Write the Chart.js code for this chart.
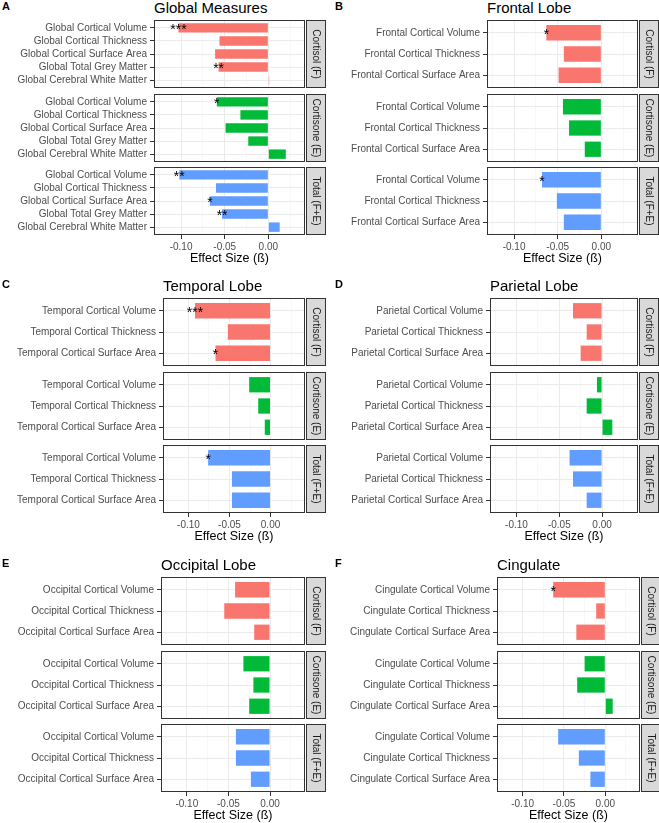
<!DOCTYPE html>
<html>
<head>
<meta charset="utf-8">
<script src="https://cdn.jsdelivr.net/npm/chart.js@4.4.1/dist/chart.umd.min.js"></script>
<style>
body { margin: 0; background: #fff; width: 659px; height: 823px; position: relative; overflow: hidden;
       font-family: "Liberation Sans", Arial, sans-serif; }
canvas { position: absolute; }
.letter { position: absolute; font-weight: bold; font-size: 11px; line-height: 11px; color: #000; }
.title { position: absolute; font-size: 15px; line-height: 15px; color: #000; white-space: nowrap; }
</style>
</head>
<body>
<script>
// facet groups
const groups = ['Cortisol (F)', 'Cortisone (E)', 'Total (F+E)'];

// x axis
const xTicks = [-0.10, -0.05, 0.00];
const xTickLabels = ['-0.10', '-0.05', '0.00'];
const xMinor = [-0.125, -0.075, -0.025, 0.025];

// A - global
const globalLabels = ['Global Cortical Volume', 'Global Cortical Thickness', 'Global Cortical Surface Area',
    'Global Total Grey Matter', 'Global Cerebral White Matter'];
const globalCortisol = [-0.103, -0.056, -0.061, -0.057, 0.001];
const globalCortisone = [-0.059, -0.032, -0.049, -0.023, 0.020];
const globalTotal = [-0.102, -0.060, -0.067, -0.053, 0.013];
const globalStars = [['***', '', '', '**', ''], ['*', '', '', '', ''], ['**', '', '*', '**', '']];

// B - frontal
const frontalLabels = ['Frontal Cortical Volume', 'Frontal Cortical Thickness', 'Frontal Cortical Surface Area'];
const frontalCortisol = [-0.063, -0.043, -0.049];
const frontalCortisone = [-0.044, -0.037, -0.019];
const frontalTotal = [-0.068, -0.051, -0.043];
const frontalStars = [['*', '', ''], ['', '', ''], ['*', '', '']];

// C - temporal
const temporalLabels = ['Temporal Cortical Volume', 'Temporal Cortical Thickness', 'Temporal Cortical Surface Area'];
const temporalCortisol = [-0.092, -0.052, -0.067];
const temporalCortisone = [-0.026, -0.015, -0.007];
const temporalTotal = [-0.076, -0.047, -0.047];
const temporalStars = [['***', '', '*'], ['', '', ''], ['*', '', '']];

// D - parietal
const parietalLabels = ['Parietal Cortical Volume', 'Parietal Cortical Thickness', 'Parietal Cortical Surface Area'];
const parietalCortisol = [-0.034, -0.018, -0.025];
const parietalCortisone = [-0.006, -0.018, 0.012];
const parietalTotal = [-0.038, -0.034, -0.018];
const parietalStars = [['', '', ''], ['', '', ''], ['', '', '']];

// E - occipital
const occipitalLabels = ['Occipital Cortical Volume', 'Occipital Cortical Thickness', 'Occipital Cortical Surface Area'];
const occipitalCortisol = [-0.042, -0.055, -0.019];
const occipitalCortisone = [-0.032, -0.020, -0.025];
const occipitalTotal = [-0.041, -0.041, -0.023];
const occipitalStars = [['', '', ''], ['', '', ''], ['', '', '']];

// F - cingulate
const cingulateLabels = ['Cingulate Cortical Volume', 'Cingulate Cortical Thickness', 'Cingulate Cortical Surface Area'];
const cingulateCortisol = [-0.063, -0.011, -0.035];
const cingulateCortisone = [-0.025, -0.034, 0.009];
const cingulateTotal = [-0.057, -0.032, -0.018];
const cingulateStars = [['*', '', ''], ['', '', ''], ['', '', '']];

const colors = ['#F8766D', '#00BA38', '#619CFF'];
const X_MIN = -0.131, X_MAX = 0.042;
const rowTop = [0, 278, 557];
const facetTop = [20, 94, 167];
const FACET_H = 68;
const PAD = 10, STRIP = 20;

Chart.defaults.font.family = '"Liberation Sans", Arial, sans-serif';

const panels = [
    { letter: 'A', title: 'Global Measures', labels: globalLabels, values: [globalCortisol, globalCortisone, globalTotal],
      stars: globalStars, col: 0, row: 0, left: 154, right: 305 },
    { letter: 'B', title: 'Frontal Lobe', labels: frontalLabels, values: [frontalCortisol, frontalCortisone, frontalTotal],
      stars: frontalStars, col: 330, row: 0, left: 487, right: 638 },
    { letter: 'C', title: 'Temporal Lobe', labels: temporalLabels, values: [temporalCortisol, temporalCortisone, temporalTotal],
      stars: temporalStars, col: 0, row: 1, left: 163, right: 305 },
    { letter: 'D', title: 'Parietal Lobe', labels: parietalLabels, values: [parietalCortisol, parietalCortisone, parietalTotal],
      stars: parietalStars, col: 330, row: 1, left: 490, right: 638 },
    { letter: 'E', title: 'Occipital Lobe', labels: occipitalLabels, values: [occipitalCortisol, occipitalCortisone, occipitalTotal],
      stars: occipitalStars, col: 0, row: 2, left: 161, right: 305 },
    { letter: 'F', title: 'Cingulate', labels: cingulateLabels, values: [cingulateCortisol, cingulateCortisone, cingulateTotal],
      stars: cingulateStars, col: 330, row: 2, left: 497, right: 640 },
];

const xGrid = xMinor.concat(xTicks).sort((a, b) => a - b);
const isMajor = v => xTicks.indexOf(v) >= 0;

// panel border + strip on the right
const stripPlugin = {
    id: 'strip',
    afterDraw(chart, args, opts) {
        const { ctx, chartArea: a } = chart;
        const h = a.bottom - a.top;
        ctx.save();
        ctx.strokeStyle = '#333';
        ctx.lineWidth = 1;
        ctx.strokeRect(a.left + 0.5, a.top + 0.5, a.right - a.left - 1, h - 1);
        ctx.fillStyle = '#d9d9d9';
        ctx.fillRect(a.right + 1, a.top, STRIP, h);
        ctx.strokeRect(a.right + 1.5, a.top + 0.5, STRIP - 1, h - 1);
        ctx.translate(a.right + 1 + STRIP / 2, a.top + h / 2);
        ctx.rotate(Math.PI / 2);
        ctx.fillStyle = '#1a1a1a';
        ctx.font = '10px "Liberation Sans", Arial, sans-serif';
        ctx.textAlign = 'center';
        ctx.textBaseline = 'middle';
        ctx.fillText(opts.label, 0, 0);
        ctx.restore();
    }
};

// significance stars at the bar ends
const starsPlugin = {
    id: 'stars',
    afterDatasetsDraw(chart, args, opts) {
        const { ctx } = chart;
        const meta = chart.getDatasetMeta(0);
        ctx.save();
        ctx.fillStyle = '#000';
        ctx.font = '14px "Liberation Sans", Arial, sans-serif';
        ctx.textAlign = 'center';
        ctx.textBaseline = 'middle';
        meta.data.forEach((bar, i) => {
            if (opts.list[i]) ctx.fillText(opts.list[i], bar.x, bar.y + 2);
        });
        ctx.restore();
    }
};

function addFacet(p, g) {
    const bottom = g === 2;
    const XH = bottom ? 31 : 0;
    const cv = document.createElement('canvas');
    cv.width = p.right - p.col + STRIP + 2;
    cv.height = PAD + FACET_H + XH + PAD;
    cv.style.left = p.col + 'px';
    cv.style.top = (rowTop[p.row] + facetTop[g] - PAD) + 'px';
    document.body.appendChild(cv);
    const n = p.labels.length;

    new Chart(cv, {
        type: 'bar',
        data: {
            datasets: [{
                data: p.values[g].map((v, i) => ({ x: v, y: i })),
                backgroundColor: colors[g],
                barPercentage: 0.72,
                categoryPercentage: 1,
            }]
        },
        options: {
            indexAxis: 'y',
            responsive: false,
            animation: false,
            layout: { padding: { left: 0, right: STRIP + 2, top: PAD, bottom: PAD } },
            plugins: {
                legend: { display: false },
                tooltip: { enabled: false },
                strip: { label: groups[g] },
                stars: { list: p.stars[g] },
            },
            scales: {
                x: {
                    type: 'linear',
                    min: X_MIN,
                    max: X_MAX,
                    offset: false,
                    afterBuildTicks: s => { s.ticks = xGrid.map(v => ({ value: v })); },
                    afterFit: s => { s.height = XH; },
                    border: { display: false },
                    grid: {
                        offset: false,
                        drawTicks: bottom,
                        tickLength: 4,
                        color: c => isMajor(c.tick.value) ? '#ebebeb' : '#f3f3f3',
                        lineWidth: c => isMajor(c.tick.value) ? 1 : 0.6,
                        tickColor: c => isMajor(c.tick.value) ? '#333' : 'rgba(0,0,0,0)',
                    },
                    ticks: {
                        display: bottom,
                        autoSkip: false,
                        maxRotation: 0,
                        padding: 2,
                        color: '#4d4d4d',
                        font: { size: 10 },
                        callback: v => isMajor(v) ? xTickLabels[xTicks.indexOf(v)] : '',
                    },
                    title: {
                        display: bottom,
                        text: 'Effect Size (ß)',
                        color: '#000',
                        font: { size: 12.5 },
                        padding: 0,
                    }
                },
                y: {
                    type: 'linear',
                    reverse: true,
                    min: -0.6,
                    max: n - 0.4,
                    offset: false,
                    afterBuildTicks: s => { s.ticks = p.labels.map((_, i) => ({ value: i })); },
                    afterFit: s => { s.width = p.left - p.col; },
                    border: { display: false },
                    grid: { offset: false, color: '#ebebeb', tickColor: '#333', tickLength: 4 },
                    ticks: {
                        autoSkip: false,
                        padding: 3,
                        color: '#4d4d4d',
                        font: { size: 10 },
                        callback: v => p.labels[v],
                    }
                }
            }
        },
        plugins: [stripPlugin, starsPlugin]
    });
}

panels.forEach(p => {
    const letter = document.createElement('div');
    letter.className = 'letter';
    letter.textContent = p.letter;
    letter.style.left = (p.col + (p.col ? 5 : 2)) + 'px';
    letter.style.top = (rowTop[p.row] + 1) + 'px';
    document.body.appendChild(letter);

    const title = document.createElement('div');
    title.className = 'title';
    title.textContent = p.title;
    title.style.left = p.left + 'px';
    title.style.top = rowTop[p.row] + 'px';
    document.body.appendChild(title);

    groups.forEach((_, g) => addFacet(p, g));
});
</script>
</body>
</html>
